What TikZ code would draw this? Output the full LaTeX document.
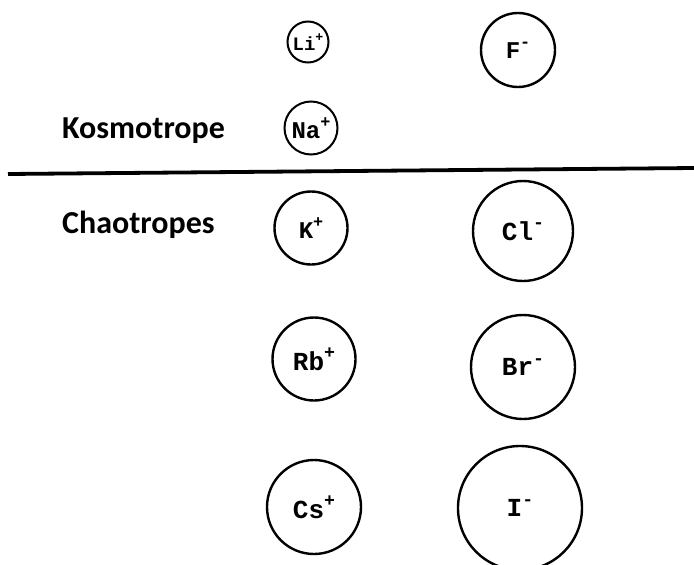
\documentclass[tikz,border=0pt]{standalone}
\usepackage{fontspec}
\setmainfont{Carlito}
\newfontfamily\ionfont{Liberation Mono}
\newcommand{\ionsup}[1]{\raisebox{0.45em}{\scalebox{0.7}{#1}}}
\begin{document}
\begin{tikzpicture}[x=1pt,y=-1pt,
  ion/.style={circle,draw=black,line width=2.4pt,inner sep=0pt},
  grouplabel/.style={anchor=base west,inner sep=0pt,font=\fontsize{32}{36}\selectfont\bfseries}]
\useasboundingbox (0,0) rectangle (694,565);
\clip (0,0) rectangle (694,565);
% kosmotropes
\node[ion,minimum size=41pt,line width=2pt,font=\ionfont\bfseries\fontsize{19}{20}\selectfont] (li) at (308,42) {Li\ionsup{+}};
\node[ion,minimum size=74pt,font=\ionfont\bfseries\fontsize{24}{26}\selectfont] (f) at (518,50) {F\ionsup{-}};
\node[ion,minimum size=53pt,line width=2pt,font=\ionfont\bfseries\fontsize{24}{26}\selectfont] (na) at (311,128) {Na\ionsup{+}};
\node[grouplabel] (kos) at (62,138) {Kosmotrope};
% divider
\coordinate (lineL) at (8,174);
\coordinate (lineR) at (694,168);
\draw[line width=3.8pt] (lineL) -- (lineR);
% chaotropes
\node[grouplabel] (chao) at (62,233) {Chaotropes};
\node[ion,minimum size=73pt,font=\ionfont\bfseries\fontsize{24}{26}\selectfont] (k) at (311,228) {K\ionsup{+}};
\node[ion,minimum size=100pt,font=\ionfont\bfseries\fontsize{26}{28}\selectfont] (cl) at (523,231) {Cl\ionsup{-}};
\node[ion,minimum size=83pt,font=\ionfont\bfseries\fontsize{26}{28}\selectfont] (rb) at (314,359) {Rb\ionsup{+}};
\node[ion,minimum size=104pt,font=\ionfont\bfseries\fontsize{26}{28}\selectfont] (br) at (523,367) {Br\ionsup{-}};
\node[ion,minimum size=94pt,font=\ionfont\bfseries\fontsize{26}{28}\selectfont] (cs) at (314,507) {Cs\ionsup{+}};
\node[ion,minimum size=124pt,font=\ionfont\bfseries\fontsize{26}{28}\selectfont] (i) at (520,508) {I\ionsup{-}};
\end{tikzpicture}
\end{document}
